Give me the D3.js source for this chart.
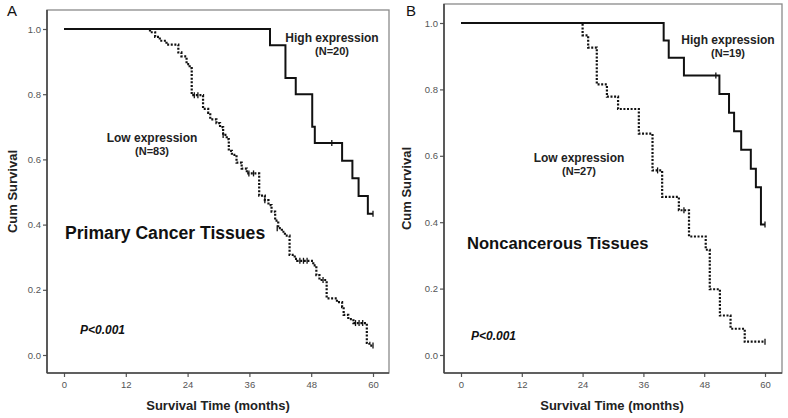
<!DOCTYPE html>
<html><head><meta charset="utf-8">
<script src="https://cdn.jsdelivr.net/npm/d3@7"></script>
<style>body{margin:0;background:#fff}svg{display:block;font-family:"Liberation Sans",Arial,sans-serif}</style>
</head><body><svg id="c" width="788" height="418"></svg>
<script>
// ---- data ----
const xTicks = [0, 12, 24, 36, 48, 60];
const yTicks = [0, 0.2, 0.4, 0.6, 0.8, 1.0];

// Panel A: Primary cancer tissues  [month, cumulative survival after step]
const highA = [[0,1],[40,0.95],[43,0.85],[45,0.80],[48.2,0.70],[48.7,0.65],[54,0.596],[56,0.542],[57.2,0.488],[59,0.433]];
const highA_cens = [[52,0.65],[60,0.433]];
const lowA = [[0,1],[16.7,0.99],[17.7,0.976],[18.6,0.964],[19.9,0.952],[22.2,0.928],[22.8,0.916],[23.8,0.892],[24.4,0.88],[24.8,0.797],
  [27,0.755],[28,0.743],[28.4,0.723],[29.6,0.711],[30.3,0.699],[30.9,0.675],[31.6,0.662],[32.0,0.626],[32.6,0.614],[33.5,0.59],
  [34.5,0.572],[35.5,0.557],[37.9,0.489],[39,0.475],[39.7,0.46],[40.3,0.44],[41,0.412],[41.6,0.389],[42.3,0.378],[42.9,0.366],
  [43.8,0.307],[44.8,0.295],[45.3,0.289],[48.4,0.275],[49.0,0.245],[49.6,0.23],[51,0.174],[53,0.162],[54,0.147],[54.3,0.123],
  [55.2,0.11],[56.2,0.098],[58.8,0.037],[59.3,0.029]];
const lowA_cens = [[25.3,0.797],[26,0.797],[30.9,0.675],[35.9,0.557],[36.8,0.557],[39,0.475],[41.4,0.389],[45.8,0.289],[46.5,0.289],[47.2,0.289],[50.3,0.23],[56.6,0.098],[57.3,0.098],[58,0.098],[60,0.029]];

// Panel B: Noncancerous tissues
const highB = [[0,1],[40,0.947],[41,0.895],[44,0.842],[51,0.786],[52.9,0.73],[53.9,0.674],[55.3,0.618],[57.2,0.561],[58.2,0.505],[59.2,0.393]];
const highB_cens = [[50.3,0.842],[60,0.393]];
const lowB = [[0,1],[24,0.963],[25.1,0.926],[26.8,0.815],[28.8,0.778],[31,0.741],[35.1,0.667],[37.8,0.556],[39.7,0.476],[43,0.436],[45,0.357],[48.3,0.317],[49.1,0.198],[51.1,0.119],[53.2,0.079],[56,0.04]];
const lowB_cens = [[38.8,0.556],[44,0.436],[60,0.04]];

const panels = [
  {letter:"A", title:"Primary Cancer Tissues", high:highA, highC:highA_cens, low:lowA, lowC:lowA_cens, nHigh:"(N=20)", nLow:"(N=83)",
   frame:{l:47,t:10,r:389,b:373}, xr:[64,373], yr:[355,29],
   letterPos:[7,16], titlePos:[65,239,17.6], hiLab:[332,42], loLab:[152,142], pPos:[80,334], yTitleX:12, xTitleX:218},
  {letter:"B", title:"Noncancerous Tissues", high:highB, highC:highB_cens, low:lowB, lowC:lowB_cens, nHigh:"(N=19)", nLow:"(N=27)",
   frame:{l:444,t:4,r:782,b:373}, xr:[461,765], yr:[355,23],
   letterPos:[406,16], titlePos:[467,249,16.6], hiLab:[728,44], loLab:[579,162], pPos:[471,340], yTitleX:406, xTitleX:612}
];

const svg = d3.select("#c");

panels.forEach(p => {
  const g = svg.append("g");
  const x = d3.scaleLinear().domain([0,60]).range(p.xr);
  const y = d3.scaleLinear().domain([0,1]).range(p.yr);
  const f = p.frame;

  // frame
  g.append("rect").attr("x",f.l).attr("y",f.t).attr("width",f.r-f.l).attr("height",f.b-f.t)
    .attr("fill","#fff").attr("stroke","#8a8a8a").attr("stroke-width",1.3);

  // axes
  const xa = g.append("g").attr("transform",`translate(0,${f.b})`)
    .call(d3.axisBottom(x).tickValues(xTicks).tickSize(4).tickPadding(4).tickSizeOuter(0));
  const ya = g.append("g").attr("transform",`translate(${f.l},0)`)
    .call(d3.axisLeft(y).tickValues(yTicks).tickFormat(d3.format(".1f")).tickSize(4).tickPadding(2).tickSizeOuter(0));
  [xa,ya].forEach(a=>{
    a.select(".domain").remove();
    a.selectAll("line").attr("stroke","#555").attr("stroke-width",1.2);
    a.selectAll("text").attr("fill","#555").style("font-size","9.5px").style("font-family","Liberation Sans, Arial, sans-serif");
  });
  g.append("line").attr("x1",f.l).attr("x2",f.l).attr("y1",f.t).attr("y2",f.b).attr("stroke","#444").attr("stroke-width",1.6);
  g.append("line").attr("x1",f.l).attr("x2",f.r).attr("y1",f.b).attr("y2",f.b).attr("stroke","#444").attr("stroke-width",1.6);

  const line = d3.line().x(d=>x(d[0])).y(d=>y(d[1])).curve(d3.curveStepAfter);
  const ext = arr => arr.concat([[60, arr[arr.length-1][1]]]);

  g.append("path").attr("d", line(ext(p.low))).attr("fill","none").attr("stroke","#111")
    .attr("stroke-width",2.2).attr("stroke-dasharray","2,1.6");
  g.append("path").attr("d", line(ext(p.high))).attr("fill","none").attr("stroke","#111")
    .attr("stroke-width",2);

  const cens = (arr) => g.selectAll(null).data(arr).enter().append("line")
    .attr("x1",d=>x(d[0])).attr("x2",d=>x(d[0])).attr("y1",d=>y(d[1])-3).attr("y2",d=>y(d[1])+3)
    .attr("stroke","#111").attr("stroke-width",1.3);
  cens(p.lowC); cens(p.highC);

  // texts
  g.append("text").attr("x",p.letterPos[0]).attr("y",p.letterPos[1]).text(p.letter)
    .style("font-size","15px").attr("fill","#111");
  g.append("text").attr("x",p.titlePos[0]).attr("y",p.titlePos[1]).text(p.title)
    .style("font-size",p.titlePos[2]+"px").style("font-weight","bold").attr("fill","#111");
  const lab = (pos, l1, l2) => {
    g.append("text").attr("x",pos[0]).attr("y",pos[1]).attr("text-anchor","middle").text(l1)
      .style("font-size","12px").style("font-weight","bold").attr("fill","#222");
    g.append("text").attr("x",pos[0]).attr("y",pos[1]+13).attr("text-anchor","middle").text(l2)
      .style("font-size","11px").style("font-weight","bold").attr("fill","#222");
  };
  lab(p.hiLab, "High expression", p.nHigh);
  lab(p.loLab, "Low expression", p.nLow);
  g.append("text").attr("x",p.pPos[0]).attr("y",p.pPos[1]).text("P<0.001")
    .style("font-size","12px").style("font-weight","bold").style("font-style","italic").attr("fill","#111");
  g.append("text").attr("transform",`translate(${p.yTitleX},${(f.t+f.b)/2}) rotate(-90)`).attr("text-anchor","middle")
    .attr("dy","0.35em").text("Cum Survival").style("font-size","13px").style("font-weight","bold").attr("fill","#222");
  g.append("text").attr("x",p.xTitleX).attr("y",410).attr("text-anchor","middle").text("Survival Time (months)")
    .style("font-size","13px").style("font-weight","bold").attr("fill","#222");
});
</script></body></html>
